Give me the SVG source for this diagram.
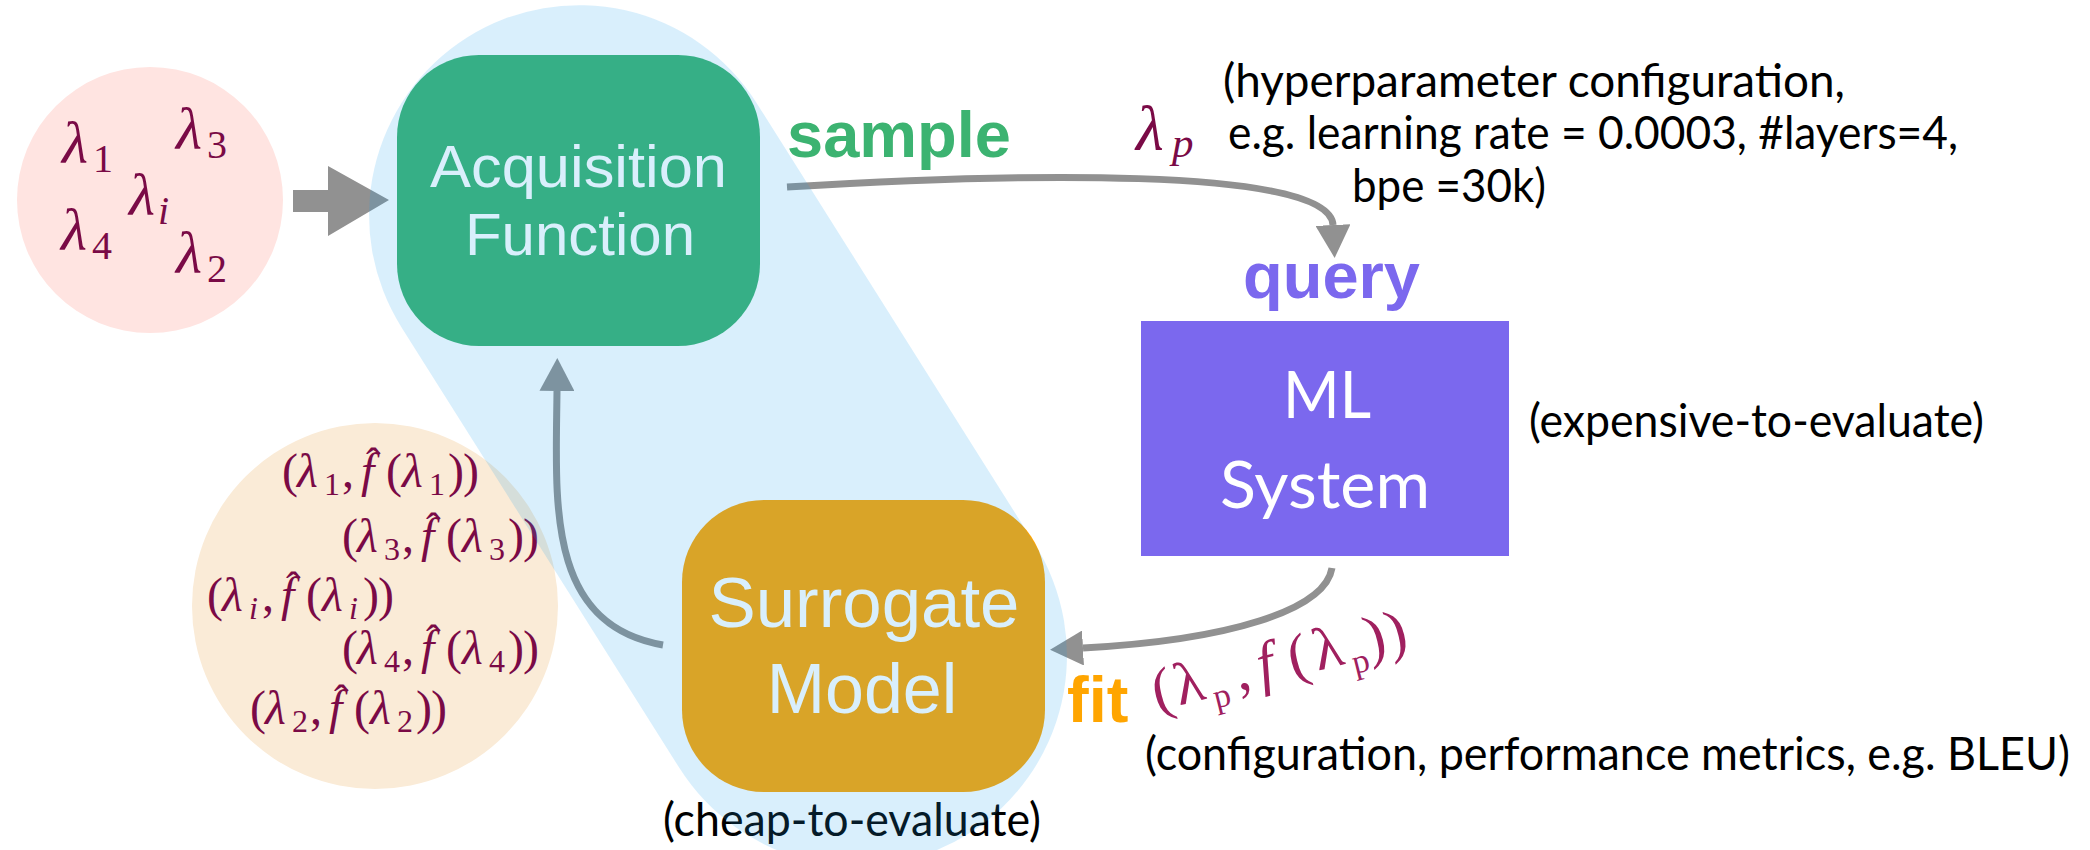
<svg xmlns="http://www.w3.org/2000/svg" width="2090" height="850" viewBox="0 0 2090 850">
  <style>
    .math { font-family: "Liberation Serif", "DejaVu Serif", serif; fill: #7a0a46; }
    .it { font-style: italic; }
    .note { font-family: Lato, "Liberation Sans", sans-serif; font-size: 46px; fill: #000; }
    .box-label { font-family: "Liberation Sans", Arial, sans-serif; fill: #fff; text-anchor: middle; }
    .sys-label { font-family: Lato, "Liberation Sans", sans-serif; font-size: 66px; fill: #fff; text-anchor: middle; }
    .verb { font-family: "Liberation Sans", Arial, sans-serif; font-weight: bold; font-size: 65px; }
    .conn { fill: none; stroke: #919191; stroke-width: 7; }
    .pair { font-size: 48px; }
    .pair .sub { font-size: 32px; }
    .pair .hat { font-size: 44px; }
  </style>
  <defs>
    <marker id="head" markerUnits="userSpaceOnUse" markerWidth="33" markerHeight="35"
            viewBox="0 0 33 35" refX="0" refY="17.5" orient="auto">
      <path d="M0,0 L33,17.5 L0,35 Z" fill="#919191"/>
    </marker>
  </defs>

  <!-- candidate configurations -->
  <g id="candidates">
    <circle cx="150" cy="200" r="133" fill="#ffe4e1"/>
    <g class="math" font-size="60">
      <text class="it" x="62" y="163">λ<tspan x="93" y="172" font-size="40" font-style="normal">1</tspan></text>
      <text class="it" x="176" y="149">λ<tspan x="207" y="158" font-size="40" font-style="normal">3</tspan></text>
      <text class="it" x="129" y="215">λ<tspan x="158" y="224" font-size="40">i</tspan></text>
      <text class="it" x="61" y="250">λ<tspan x="92" y="259" font-size="40" font-style="normal">4</tspan></text>
      <text class="it" x="176" y="273">λ<tspan x="207" y="282" font-size="40" font-style="normal">2</tspan></text>
    </g>
  </g>

  <!-- observed (configuration, estimate) pairs -->
  <g id="observations">
    <circle cx="375" cy="606" r="183" fill="#faebd7"/>
    <g class="math pair" transform="translate(282,487)">
      <text y="0"><tspan x="0">(</tspan><tspan class="it" x="15">λ</tspan><tspan class="sub" x="42" y="8">1</tspan><tspan x="60" y="0">,</tspan><tspan class="it" x="79">f</tspan><tspan class="hat" x="84" y="-9">ˆ</tspan><tspan x="104" y="0">(</tspan><tspan class="it" x="120">λ</tspan><tspan class="sub" x="147" y="8">1</tspan><tspan x="166" y="0">)</tspan><tspan x="181">)</tspan></text>
    </g>
    <g class="math pair" transform="translate(342,552)">
      <text y="0"><tspan x="0">(</tspan><tspan class="it" x="15">λ</tspan><tspan class="sub" x="42" y="8">3</tspan><tspan x="60" y="0">,</tspan><tspan class="it" x="79">f</tspan><tspan class="hat" x="84" y="-9">ˆ</tspan><tspan x="104" y="0">(</tspan><tspan class="it" x="120">λ</tspan><tspan class="sub" x="147" y="8">3</tspan><tspan x="166" y="0">)</tspan><tspan x="181">)</tspan></text>
    </g>
    <g class="math pair" transform="translate(207,611)">
      <text y="0"><tspan x="0">(</tspan><tspan class="it" x="15">λ</tspan><tspan class="sub it" x="42" y="8">i</tspan><tspan x="55" y="0">,</tspan><tspan class="it" x="74">f</tspan><tspan class="hat" x="79" y="-9">ˆ</tspan><tspan x="99" y="0">(</tspan><tspan class="it" x="115">λ</tspan><tspan class="sub it" x="142" y="8">i</tspan><tspan x="156" y="0">)</tspan><tspan x="171">)</tspan></text>
    </g>
    <g class="math pair" transform="translate(342,664)">
      <text y="0"><tspan x="0">(</tspan><tspan class="it" x="15">λ</tspan><tspan class="sub" x="42" y="8">4</tspan><tspan x="60" y="0">,</tspan><tspan class="it" x="79">f</tspan><tspan class="hat" x="84" y="-9">ˆ</tspan><tspan x="104" y="0">(</tspan><tspan class="it" x="120">λ</tspan><tspan class="sub" x="147" y="8">4</tspan><tspan x="166" y="0">)</tspan><tspan x="181">)</tspan></text>
    </g>
    <g class="math pair" transform="translate(250,724)">
      <text y="0"><tspan x="0">(</tspan><tspan class="it" x="15">λ</tspan><tspan class="sub" x="42" y="8">2</tspan><tspan x="60" y="0">,</tspan><tspan class="it" x="79">f</tspan><tspan class="hat" x="84" y="-9">ˆ</tspan><tspan x="104" y="0">(</tspan><tspan class="it" x="120">λ</tspan><tspan class="sub" x="147" y="8">2</tspan><tspan x="166" y="0">)</tspan><tspan x="181">)</tspan></text>
    </g>
  </g>

  <!-- acquisition function -->
  <g id="acquisition">
    <rect x="397" y="55" width="363" height="291" rx="82" fill="#3cb371"/>
    <text class="box-label" font-size="60" x="578.5" y="187" textLength="297" lengthAdjust="spacingAndGlyphs">Acquisition</text>
    <text class="box-label" font-size="60" x="580" y="255">Function</text>
  </g>

  <!-- surrogate model -->
  <g id="surrogate">
    <rect x="682" y="500" width="363" height="292" rx="82" fill="#ffa500"/>
    <text class="box-label" font-size="70" x="864" y="627" textLength="311" lengthAdjust="spacingAndGlyphs">Surrogate</text>
    <text class="box-label" font-size="70" x="862" y="713">Model</text>
  </g>

  <!-- system under tuning -->
  <g id="ml-system">
    <rect x="1141" y="321" width="368" height="235" fill="#7b68ee"/>
    <text class="sys-label" x="1327" y="418" textLength="88" lengthAdjust="spacingAndGlyphs">ML</text>
    <text class="sys-label" x="1325" y="508" textLength="210" lengthAdjust="spacingAndGlyphs">System</text>
    <text class="note" x="1529" y="437" textLength="455" lengthAdjust="spacingAndGlyphs">(expensive-to-evaluate)</text>
  </g>

  <!-- connectors -->
  <g id="connectors">
    <polygon points="293,190 328,190 328,166 389,200 328,236 328,212 293,212" fill="#919191"/>
    <path class="conn" d="M787,187 C1000,174 1330,165 1333,225" marker-end="url(#head)"/>
    <path class="conn" d="M1332,568 C1325,610 1230,640 1083,648" marker-end="url(#head)"/>
    <path class="conn" d="M663,645 C545,625 556,500 557,391" marker-end="url(#head)"/>
  </g>

  <!-- edge labels -->
  <g id="labels">
    <text class="verb" x="787" y="157" fill="#3cb371">sample</text>
    <text class="verb" x="1243" y="298" fill="#7b68ee">query</text>
    <text class="verb" x="1067" y="722" fill="#ffa500">fit</text>

    <text class="math it" x="1136" y="150" font-size="64">λ<tspan x="1172" y="157" font-size="43">p</tspan></text>
    <text class="note" x="1223" y="97" textLength="622" lengthAdjust="spacingAndGlyphs">(hyperparameter configuration,</text>
    <text class="note" x="1228" y="149" textLength="730" lengthAdjust="spacingAndGlyphs">e.g. learning rate = 0.0003, #layers=4,</text>
    <text class="note" x="1352" y="202" textLength="194" lengthAdjust="spacingAndGlyphs">bpe =30k)</text>

    <g class="math" transform="translate(1157,711) rotate(-14)" font-size="60" style="fill:#a0205f">
      <text y="0"><tspan x="0">(</tspan><tspan x="23">λ</tspan><tspan x="58" y="12" font-size="34">p</tspan><tspan x="84" y="0">,</tspan><tspan class="it" x="108">f</tspan><tspan x="140">(</tspan><tspan x="166">λ</tspan><tspan x="201" y="12" font-size="34">p</tspan><tspan x="219" y="0">)</tspan><tspan x="241">)</tspan></text>
    </g>
    <text class="note" x="1145" y="770" textLength="925" lengthAdjust="spacingAndGlyphs">(configuration, performance metrics, e.g. BLEU)</text>
    <text class="note" x="663" y="836" textLength="378" lengthAdjust="spacingAndGlyphs">(cheap-to-evaluate)</text>
  </g>

  <!-- translucent band marking the model-based loop -->
  <g id="model-region">
    <rect x="-470.5" y="-210" width="941" height="420" rx="210"
          transform="translate(718,435.5) rotate(57.77)" fill="#1ea0eb" fill-opacity="0.17"/>
  </g>
</svg>
